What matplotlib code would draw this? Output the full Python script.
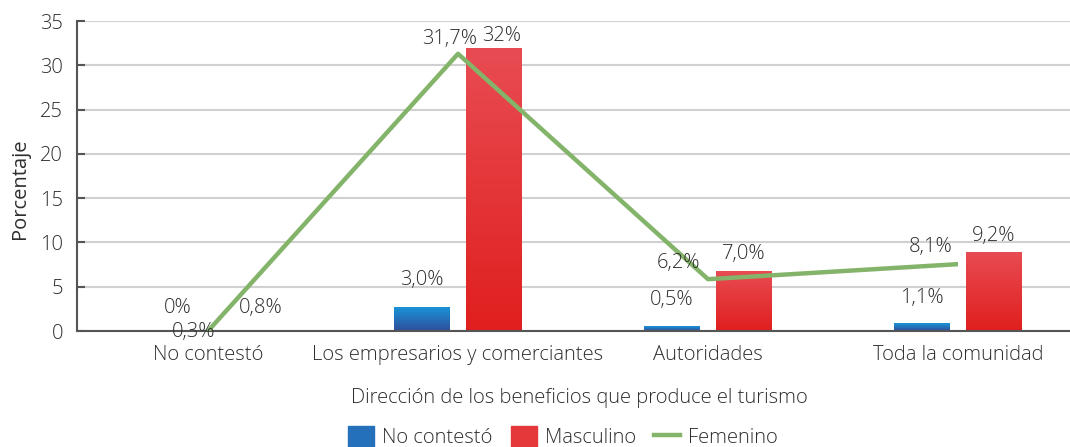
import numpy as np
import matplotlib
matplotlib.use('Agg')
import matplotlib.pyplot as plt
from matplotlib.colors import LinearSegmentedColormap
from matplotlib.patches import Patch
from matplotlib.lines import Line2D

categorias = ['No contestó', 'Los empresarios y comerciantes', 'Autoridades', 'Toda la comunidad']
no_contesto = [0, 2.7, 0.55, 0.9]
masculino = [0, 31.95, 6.8, 8.95]
femenino = [0, 31.3, 5.85, 7.55]
etq_no_contesto = ['0%', '3,0%', '0,5%', '1,1%']
etq_masculino = ['0,8%', '32%', '7,0%', '9,2%']
etq_femenino = ['0,3%', '31,7%', '6,2%', '8,1%']

plt.rcParams['font.family'] = ['Open Sans', 'DejaVu Sans']
plt.rcParams['font.weight'] = 'light'
txt = '#2e2e2e'
fs = 14.5

fig = plt.figure(figsize=(10.7, 4.47), dpi=100)
ax = fig.add_axes([0.072, 0.2595, 0.928, 0.6935])

x = np.arange(len(categorias))
w = 0.224
off = 0.144

def gradiente(ax, barras, c_top, c_bot):
    cmap = LinearSegmentedColormap.from_list('g', [c_top, c_bot])
    grad = np.linspace(0, 1, 256).reshape(-1, 1)
    for b in barras:
        h = b.get_height()
        if h <= 0:
            continue
        x0, y0 = b.get_xy()
        im = ax.imshow(grad, extent=[x0, x0 + b.get_width(), y0, y0 + h],
                       origin='upper', cmap=cmap, aspect='auto', zorder=2)
        im.set_clip_path(b)

b1 = ax.bar(x - off, no_contesto, w, color='none', zorder=2)
b2 = ax.bar(x + off, masculino, w, color='none', zorder=2)
gradiente(ax, b1, '#1a93d8', '#2e4e9b')
gradiente(ax, b2, '#e84c53', '#e01f1e')
ax.plot(x, femenino, color='#84b46a', lw=3.2, zorder=4, solid_capstyle='butt')

# etiquetas (desplazamientos en pixeles)
d1 = [(6, 23), (0, 27), (0, 26), (0, 25)]
d2 = [(17, 23), (8, 12), (0, 17), (0, 16)]
d3 = [(-14, -1), (-8, 15), (-30, 16), (-27, 17)]
for i in range(len(x)):
    ax.annotate(etq_no_contesto[i], (x[i] - off, no_contesto[i]), xytext=d1[i],
                textcoords='offset pixels', ha='center', va='center', fontsize=fs, color=txt, zorder=5)
    ax.annotate(etq_masculino[i], (x[i] + off, masculino[i]), xytext=d2[i],
                textcoords='offset pixels', ha='center', va='center', fontsize=fs, color=txt, zorder=5)
    ax.annotate(etq_femenino[i], (x[i], femenino[i]), xytext=d3[i],
                textcoords='offset pixels', ha='center', va='center', fontsize=fs, color=txt, zorder=5)

ax.set_xlim(-0.524, 3.448)
ax.set_ylim(0, 35)
ax.set_yticks(range(0, 36, 5))
ax.set_xticks(x)
ax.set_xticklabels(categorias)
ax.tick_params(axis='x', length=0, pad=10, labelsize=fs, labelcolor=txt)
ax.tick_params(axis='y', direction='in', length=6, width=1.5, color='#555555', pad=10,
               labelsize=fs, labelcolor=txt)
ax.grid(axis='y', color='#d0d0d0', lw=1.5, zorder=0)
ax.set_axisbelow(True)
for s in ['top', 'right']:
    ax.spines[s].set_visible(False)
for s in ['left', 'bottom']:
    ax.spines[s].set_color('#555555')
    ax.spines[s].set_linewidth(1.5)
    ax.spines[s].set_zorder(3)

ax.set_ylabel('Porcentaje', fontsize=fs, color=txt)
ax.yaxis.set_label_coords(-0.047, 0.46)
fig.text(579 / 1070, 1 - 398 / 447, 'Dirección de los beneficios que produce el turismo',
         ha='center', va='center', fontsize=fs, color=txt)

handles = [Patch(color='#2470ba'), Patch(color='#e4383a'), Line2D([], [], color='#84b46a', lw=3.2)]
fig.legend(handles, ['No contestó', 'Masculino', 'Femenino'], loc='center',
           bbox_to_anchor=(563 / 1070, 1 - 437 / 447), ncol=3, frameon=False,
           fontsize=fs, labelcolor=txt, handlelength=1.3, handletextpad=0.4,
           columnspacing=0.9, handleheight=1.3)

fig.savefig('out.png', dpi=100)
